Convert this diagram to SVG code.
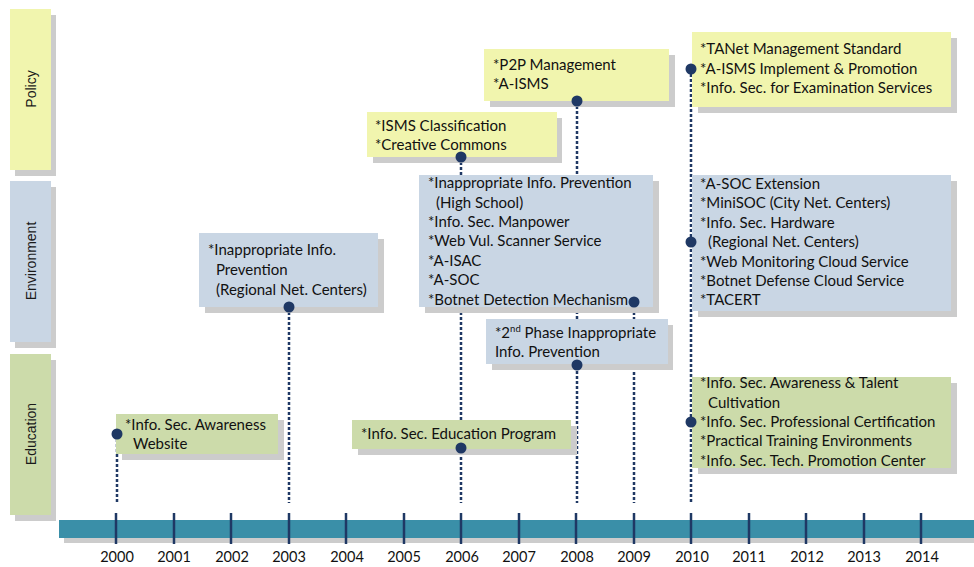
<svg xmlns="http://www.w3.org/2000/svg" width="974" height="567" viewBox="0 0 974 567">
<style>
.sh{fill:#CCCCCC}
.pol{fill:#F1F5AE}
.env{fill:#C9D6E4}
.edu{fill:#CCDBAA}
.t{font-family:Lato,"Liberation Sans",sans-serif;font-size:15px;fill:#111111}
.cat{font-family:"Liberation Sans",Arial,sans-serif;font-size:14px;fill:#1a1a1a;text-anchor:middle}
.yr{font-family:Lato,"Liberation Sans",sans-serif;font-size:14.5px;fill:#111111;text-anchor:middle}
.dl{stroke:#1F3864;stroke-width:2.5;stroke-dasharray:3 2;fill:none}
.dot{fill:#1F3864}
.tick{stroke:#1F3864;stroke-width:2.5}
</style>
<rect width="974" height="567" fill="#FFFFFF"/>

<g id="cat-policy">
<rect class="sh" x="15" y="15" width="41" height="161"/>
<rect class="pol" x="10" y="9" width="41" height="161"/>
<text class="cat" transform="translate(36,89) rotate(-90)">Policy</text>
</g>
<g id="cat-environment">
<rect class="sh" x="15" y="187" width="41" height="161"/>
<rect class="env" x="10" y="181" width="41" height="161"/>
<text class="cat" transform="translate(36,261) rotate(-90)">Environment</text>
</g>
<g id="cat-education">
<rect class="sh" x="15" y="360" width="41" height="161"/>
<rect class="edu" x="10" y="354" width="41" height="161"/>
<text class="cat" transform="translate(36,434) rotate(-90)">Education</text>
</g>

<g id="timeline">
<rect class="sh" x="64" y="525" width="910" height="18"/>
<rect x="59" y="520" width="915" height="18" fill="#3A8FA8"/>
<line class="tick" x1="116" y1="513" x2="116" y2="544"/>
<line class="tick" x1="174" y1="513" x2="174" y2="544"/>
<line class="tick" x1="231" y1="513" x2="231" y2="544"/>
<line class="tick" x1="289" y1="513" x2="289" y2="544"/>
<line class="tick" x1="346" y1="513" x2="346" y2="544"/>
<line class="tick" x1="404" y1="513" x2="404" y2="544"/>
<line class="tick" x1="461" y1="513" x2="461" y2="544"/>
<line class="tick" x1="519" y1="513" x2="519" y2="544"/>
<line class="tick" x1="576" y1="513" x2="576" y2="544"/>
<line class="tick" x1="634" y1="513" x2="634" y2="544"/>
<line class="tick" x1="691" y1="513" x2="691" y2="544"/>
<line class="tick" x1="749" y1="513" x2="749" y2="544"/>
<line class="tick" x1="806" y1="513" x2="806" y2="544"/>
<line class="tick" x1="864" y1="513" x2="864" y2="544"/>
<line class="tick" x1="921" y1="513" x2="921" y2="544"/>
<text class="yr" x="117" y="562">2000</text>
<text class="yr" x="174" y="562">2001</text>
<text class="yr" x="232" y="562">2002</text>
<text class="yr" x="289" y="562">2003</text>
<text class="yr" x="347" y="562">2004</text>
<text class="yr" x="404" y="562">2005</text>
<text class="yr" x="462" y="562">2006</text>
<text class="yr" x="519" y="562">2007</text>
<text class="yr" x="577" y="562">2008</text>
<text class="yr" x="634" y="562">2009</text>
<text class="yr" x="692" y="562">2010</text>
<text class="yr" x="749" y="562">2011</text>
<text class="yr" x="807" y="562">2012</text>
<text class="yr" x="864" y="562">2013</text>
<text class="yr" x="922" y="562">2014</text>
</g>

<g id="connectors">
<line class="dl" x1="117" y1="434" x2="117" y2="503"/>
<line class="dl" x1="289" y1="307" x2="289" y2="503"/>
<line class="dl" x1="461" y1="157" x2="461" y2="503"/>
<line class="dl" x1="577" y1="101" x2="577" y2="503"/>
<line class="dl" x1="634" y1="302" x2="634" y2="503"/>
<line class="dl" x1="691" y1="69" x2="691" y2="503"/>
</g>

<g id="n2000-edu">
<rect class="sh" x="122" y="420" width="162" height="40"/>
<rect class="edu" x="116" y="414" width="162" height="40"/>
<text class="t" x="125" y="430">*Info. Sec. Awareness</text>
<text class="t" x="133" y="449">Website</text>
</g>
<g id="n2003-env">
<rect class="sh" x="205" y="239" width="179" height="74"/>
<rect class="env" x="199" y="233" width="179" height="74"/>
<text class="t" x="208" y="255">*Inappropriate Info.</text>
<text class="t" x="216" y="275">Prevention</text>
<text class="t" x="216" y="295">(Regional Net. Centers)</text>
</g>
<g id="n2006-pol">
<rect class="sh" x="373" y="118" width="189" height="45"/>
<rect class="pol" x="367" y="112" width="190" height="45"/>
<text class="t" x="375" y="131">*ISMS Classification</text>
<text class="t" x="375" y="150">*Creative Commons</text>
</g>
<g id="n2006-env">
<rect class="sh" x="425" y="181" width="234" height="132"/>
<rect class="env" x="419" y="175" width="234" height="132"/>
<text class="t" x="428" y="188">*Inappropriate Info. Prevention</text>
<text class="t" x="436" y="208">(High School)</text>
<text class="t" x="428" y="227">*Info. Sec. Manpower</text>
<text class="t" x="428" y="246">*Web Vul. Scanner Service</text>
<text class="t" x="428" y="266">*A-ISAC</text>
<text class="t" x="428" y="285">*A-SOC</text>
<text class="t" x="428" y="305">*Botnet Detection Mechanism</text>
</g>
<g id="n2006-edu">
<rect class="sh" x="358" y="426" width="219" height="29"/>
<rect class="edu" x="352" y="420" width="219" height="29"/>
<text class="t" x="361" y="439">*Info. Sec. Education Program</text>
</g>
<g id="n2008-pol">
<rect class="sh" x="490" y="55" width="185" height="52"/>
<rect class="pol" x="484" y="49" width="185" height="52"/>
<text class="t" x="493" y="70">*P2P Management</text>
<text class="t" x="493" y="89">*A-ISMS</text>
</g>
<g id="n2008-env">
<rect class="sh" x="492" y="325" width="181" height="45"/>
<rect class="env" x="486" y="319" width="182" height="45"/>
<text class="t" x="495" y="338">*2<tspan font-size="9.5" dy="-6">nd</tspan><tspan dy="6"> Phase Inappropriate</tspan></text>
<text class="t" x="495" y="357">Info. Prevention</text>
</g>
<g id="n2010-pol">
<rect class="sh" x="698" y="38" width="259" height="75"/>
<rect class="pol" x="692" y="32" width="259" height="75"/>
<text class="t" x="700" y="54">*TANet Management Standard</text>
<text class="t" x="700" y="74">*A-ISMS Implement &amp; Promotion</text>
<text class="t" x="700" y="93">*Info. Sec. for Examination Services</text>
</g>
<g id="n2010-env">
<rect class="sh" x="698" y="181" width="259" height="136"/>
<rect class="env" x="692" y="175" width="259" height="136"/>
<text class="t" x="700" y="189">*A-SOC Extension</text>
<text class="t" x="700" y="208">*MiniSOC (City Net. Centers)</text>
<text class="t" x="700" y="228">*Info. Sec. Hardware</text>
<text class="t" x="708" y="247">(Regional Net. Centers)</text>
<text class="t" x="700" y="267">*Web Monitoring Cloud Service</text>
<text class="t" x="700" y="286">*Botnet Defense Cloud Service</text>
<text class="t" x="700" y="305">*TACERT</text>
</g>
<g id="n2010-edu">
<rect class="sh" x="698" y="383" width="259" height="91"/>
<rect class="edu" x="692" y="377" width="259" height="91"/>
<text class="t" x="700" y="388">*Info. Sec. Awareness &amp; Talent</text>
<text class="t" x="708" y="408">Cultivation</text>
<text class="t" x="700" y="427">*Info. Sec. Professional Certification</text>
<text class="t" x="700" y="446">*Practical Training Environments</text>
<text class="t" x="700" y="466">*Info. Sec. Tech. Promotion Center</text>
</g>

<g id="dots">
<circle class="dot" cx="117" cy="434" r="5.5"/>
<circle class="dot" cx="289" cy="307" r="5.5"/>
<circle class="dot" cx="461" cy="157" r="5.5"/>
<circle class="dot" cx="461" cy="448" r="5.5"/>
<circle class="dot" cx="577" cy="101" r="5.5"/>
<circle class="dot" cx="577" cy="365" r="5.5"/>
<circle class="dot" cx="634" cy="302" r="5.5"/>
<circle class="dot" cx="691" cy="69" r="5.5"/>
<circle class="dot" cx="691" cy="242" r="5.5"/>
<circle class="dot" cx="691" cy="422" r="5.5"/>
</g>
</svg>
